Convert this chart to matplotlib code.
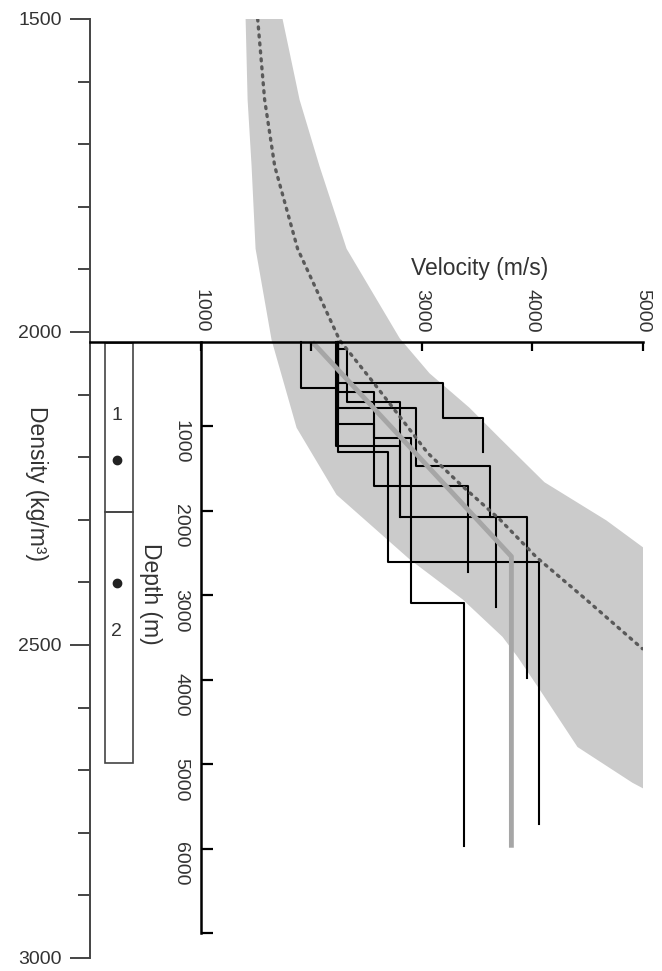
import numpy as np
import matplotlib.pyplot as plt
from matplotlib.patches import Rectangle
from matplotlib.ticker import MultipleLocator

plt.rcParams['font.family'] = ['Liberation Sans', 'DejaVu Sans']

###################
# Data (read off) #
###################
# grey band: velocity (m/s) against density (kg/m3)
band_left_rho = [1500, 1629, 1735, 1867, 2013, 2153, 2260, 2363, 2427, 2487, 2519, 2571, 2663, 2720, 2729]
band_left_vel = [1407, 1425, 1461, 1497, 1642, 1868, 2229, 2889, 3368, 3730, 3866, 4065, 4408, 4904, 5000]
band_right_rho = [1500, 1629, 1735, 1867, 2010, 2066, 2121, 2169, 2240, 2301, 2344]
band_right_vel = [1741, 1895, 2075, 2320, 2800, 3070, 3431, 3702, 4109, 4669, 5000]

# dotted trend through the band
trend_rho = [1500, 1629, 1735, 1867, 2013, 2077, 2145, 2193, 2245, 2299, 2360, 2428, 2506]
trend_vel = [1516, 1579, 1670, 1877, 2257, 2546, 2844, 3052, 3359, 3703, 4038, 4490, 4995]

# well logs: interval velocity (m/s) and layer boundaries (m)
log_vels = [
    [1910, 2240, 2690, 4060],
    [2240, 2320, 2800, 3955],
    [2240, 3190, 3550],
    [2240, 2570, 3420],
    [2240, 2950, 3620, 3675],
    [2240, 2570, 2905, 3380],
    [2220, 2800],
]
log_depths = [
    [0, 544, 1300, 2600, 5710],
    [0, 83, 710, 2070, 3975],
    [0, 485, 900, 1300],
    [0, 590, 1700, 2720],
    [0, 780, 1470, 2070, 3135],
    [0, 970, 1136, 3090, 5975],
    [0, 1230, 2070],
]

# mean velocity-depth trend (thick grey)
avg_vel = [2010, 3810, 3810]
avg_depth = [0, 2540, 5990]

# density units box
box_vel = [134, 387]
box_rho = [2017, 2288, 2688]
unit_rho = [2133, 2479]
unit_labels = ["1", "2"]
dot_rho = [2205, 2401]
unit_vel = 241

density_ticks = [1500, 2000, 2500, 3000]
velocity_ticks = [1000, 2000, 3000, 4000, 5000]
velocity_labels = ["1000", "", "3000", "4000", "5000"]
depth_ticks = [1000, 2000, 3000, 4000, 5000, 6000, 7000]
depth_labels = ["1000", "2000", "3000", "4000", "5000", "6000", ""]

W, H = 662, 971
fs = 14      # tick labels
fs_lab = 16.5  # axis titles

fig = plt.figure(figsize=(W / 100, H / 100), dpi=100)
# density axes (full height)
ax_r = fig.add_axes([90 / W, (H - 958) / H, 553 / W, 939 / H], zorder=1)
# depth axes (starts at velocity axis)
ax_d = fig.add_axes([90 / W, (H - 933) / H, 553 / W, 591 / H], zorder=2)

ax_r.set_xlim(0, 5000)
ax_r.set_ylim(3000, 1500)
ax_d.set_xlim(0, 5000)
ax_d.set_ylim(7000, 0)

# grey band
ax_r.fill(band_left_vel + band_right_vel[::-1], band_left_rho + band_right_rho[::-1],
          color='#cbcbcb', lw=0, zorder=1)

# well logs as stairs
for vel, dep in zip(log_vels, log_depths):
    xs = np.repeat(vel, 2)
    ys = np.column_stack([dep[:-1], dep[1:]]).ravel()
    ax_r.plot(xs, ys, color='black', lw=1.5, transform=ax_d.transData, zorder=3)

ax_r.plot(avg_vel, avg_depth, color='#a6a6a6', lw=3.5, transform=ax_d.transData,
          zorder=4, solid_capstyle='butt')

ax_r.plot(trend_vel, trend_rho, color='#5a5a5a', lw=2.4, ls=(0, (0.6, 1.8)),
          dash_capstyle='round', zorder=5)

# units box
for top, bot in zip(box_rho[:-1], box_rho[1:]):
    ax_r.add_patch(Rectangle((box_vel[0], top), box_vel[1] - box_vel[0], bot - top,
                             fill=False, ec='#444444', lw=1.2, zorder=3))
for r, t in zip(unit_rho, unit_labels):
    ax_r.text(unit_vel, r, t, ha='center', va='center', fontsize=fs, color='#333333')
ax_r.plot([unit_vel] * len(dot_rho), dot_rho, 'o', color='#222222', ms=6, zorder=4)

# density axis
for s in ['top', 'right', 'bottom']:
    ax_r.spines[s].set_visible(False)
ax_r.spines['left'].set_linewidth(1.4)
ax_r.spines['left'].set_color('#444444')
ax_r.set_xticks([])
ax_r.set_yticks(density_ticks)
ax_r.yaxis.set_minor_locator(MultipleLocator(100))
ax_r.tick_params(axis='y', which='major', direction='out', length=14.5, width=1.4,
                 color='#444444', pad=6, labelsize=fs, labelcolor='#333333')
ax_r.tick_params(axis='y', which='minor', direction='out', length=8.5, width=1.4, color='#444444')
ax_r.text(-0.096, 0.505, "Density (kg/m³)", transform=ax_r.transAxes, rotation=-90,
          ha='center', va='center', fontsize=fs_lab, color='#333333')

# velocity / depth axes
ax_d.patch.set_visible(False)
ax_d.spines['bottom'].set_visible(False)
ax_d.spines['right'].set_visible(False)
ax_d.spines['left'].set_position(('data', 1000))
ax_d.spines['left'].set_linewidth(1.8)
ax_d.spines['top'].set_linewidth(1.8)
ax_d.xaxis.tick_top()
ax_d.set_xticks(velocity_ticks)
ax_d.set_xticklabels(velocity_labels)
ax_d.tick_params(axis='x', direction='in', length=6.5, width=1.6, pad=7, labelsize=fs,
                 labelrotation=-90, labelcolor='#333333')
ax_d.set_yticks(depth_ticks)
ax_d.set_yticklabels(depth_labels)
ax_d.tick_params(axis='y', direction='in', length=8.5, width=1.6, pad=8, labelsize=fs,
                 labelrotation=-90, labelcolor='#333333')
ax_d.text(0.705, 1.125, "Velocity (m/s)", transform=ax_d.transAxes, ha='center', va='center',
          fontsize=fs_lab, color='#333333')
ax_d.text(0.1085, 0.574, "Depth (m)", transform=ax_d.transAxes, rotation=-90,
          ha='center', va='center', fontsize=fs_lab, color='#333333')

fig.savefig("out.png", dpi=100)
